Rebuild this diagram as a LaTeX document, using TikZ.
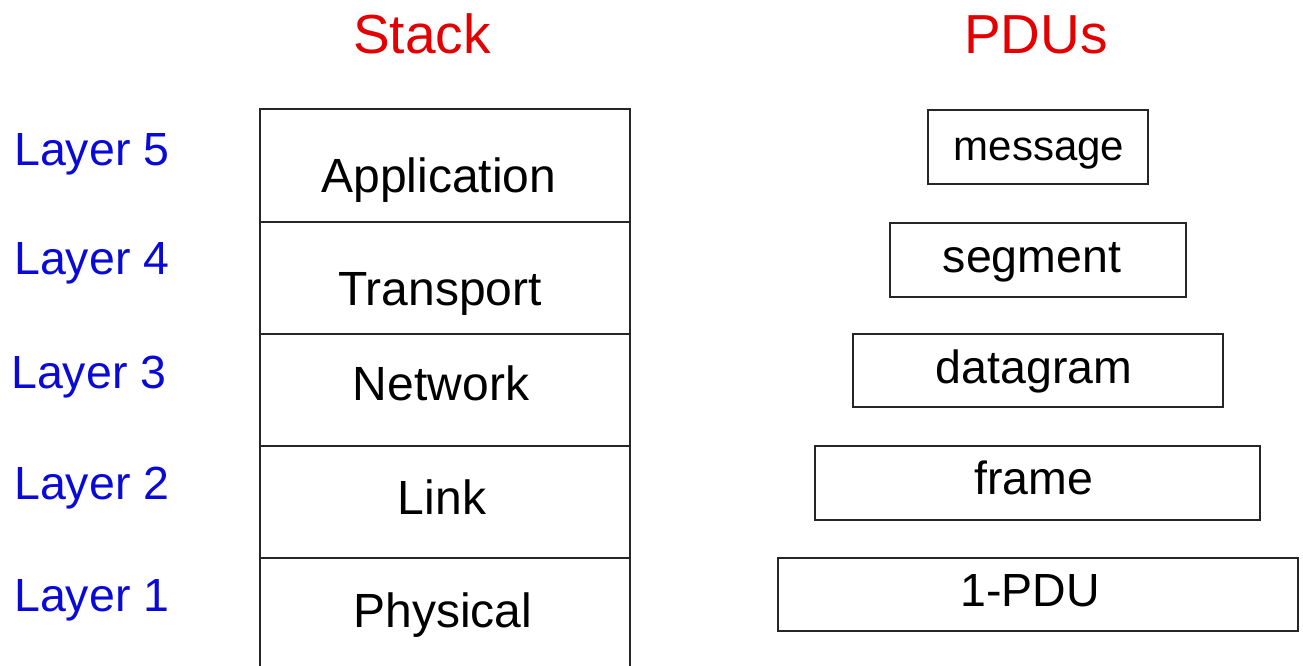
\documentclass[tikz,border=0pt]{standalone}
\usepackage{fontspec}
\setmainfont{Liberation Sans}
\definecolor{laybl}{RGB}{10,10,215}
\definecolor{titred}{RGB}{228,0,0}
\begin{document}
\begin{tikzpicture}[x=1pt,y=-1pt,
  pdubox/.style={draw=black!85,line width=2pt,inner sep=0pt},
  stxt/.style={inner sep=0pt,anchor=base,font=\fontsize{48}{50}\selectfont},
  ptxt/.style={inner sep=0pt,anchor=base,font=\fontsize{46.5}{50}\selectfont},
  ltxt/.style={inner sep=0pt,anchor=base west,text=laybl,font=\fontsize{46.5}{50}\selectfont},
  ttxt/.style={inner sep=0pt,anchor=base,text=titred,font=\fontsize{55}{60}\selectfont}]
\useasboundingbox (0,0) rectangle (1303,665);
% titles
\node[ttxt] (tstack) at (422,53) {Stack};
\node[ttxt] (tpdu) at (1036,53) {PDUs};
% layer labels
\node[ltxt] (l5) at (14,165) {Layer 5};
\node[ltxt] (l4) at (14,274) {Layer 4};
\node[ltxt] (l3) at (11,388) {Layer 3};
\node[ltxt] (l2) at (14,499) {Layer 2};
\node[ltxt] (l1) at (14,611) {Layer 1};
% stack
\draw[line width=2pt,draw=black!85] (260,680) -- (260,109) -- (630,109) -- (630,680);
\foreach \yy in {222,334,446,558} \draw[line width=2pt,draw=black!85] (260,\yy) -- (630,\yy);
\node[stxt] (sapp) at (439,192) {Application};
\node[stxt] (strn) at (440,305) {Transport};
\node[stxt] (snet) at (441,400) {Network};
\node[stxt] (slnk) at (442,514) {Link};
\node[stxt] (sphy) at (443,627) {Physical};
% PDU boxes
\node[pdubox,minimum width=220pt,minimum height=74pt] (bmsg) at (1038,146.5) {};
\node[pdubox,minimum width=296pt,minimum height=74pt] (bseg) at (1038,259.5) {};
\node[pdubox,minimum width=370pt,minimum height=73pt] (bdat) at (1038,370.5) {};
\node[pdubox,minimum width=445pt,minimum height=74pt] (bfrm) at (1037.5,483) {};
\node[pdubox,minimum width=520pt,minimum height=73pt] (bphy) at (1038,594.5) {};
\node[ptxt,font=\fontsize{42}{44}\selectfont] (pmsg) at (1039,160) {message};
\node[ptxt] (pseg) at (1032,272) {segment};
\node[ptxt] (pdat) at (1034,383) {datagram};
\node[ptxt] (pfrm) at (1034,494) {frame};
\node[ptxt] (pphy) at (1030,606) {1-PDU};
\end{tikzpicture}
\end{document}
